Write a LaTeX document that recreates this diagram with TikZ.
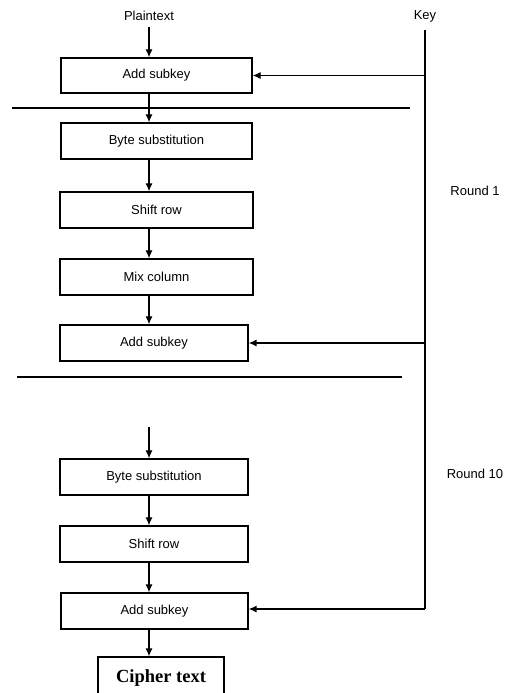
\documentclass[tikz,border=0pt]{standalone}
\usepackage{fontspec}
\setmainfont{Liberation Sans}
\newfontfamily\serifbold{Liberation Serif}
\usetikzlibrary{arrows.meta}
\begin{document}
\begin{tikzpicture}[x=1pt,y=-1pt,
  blk/.style={draw,line width=1.3pt,inner sep=0pt,font=\fontsize{13}{15}\selectfont},
  lbl/.style={inner sep=0pt,font=\fontsize{13}{15}\selectfont},
  conn/.style={line width=1.2pt,-{Latex[length=8pt,width=7pt]}},
  rule/.style={line width=1.2pt}]
\useasboundingbox (0,0) rectangle (510,693);
\clip (0,0) rectangle (510,693);
% boxes
\node[blk,minimum width=191pt,minimum height=35pt] (add1) at (156.5,75.5) {Add subkey};
\node[blk,minimum width=191pt,minimum height=36pt] (byte1) at (156.5,141) {Byte substitution};
\node[blk,minimum width=193pt,minimum height=36pt] (shift1) at (156.5,210) {Shift row};
\node[blk,minimum width=193pt,minimum height=36pt] (mix1) at (156.5,277) {Mix column};
\node[blk,minimum width=188pt,minimum height=36pt] (add2) at (154,343) {Add subkey};
\node[blk,minimum width=188pt,minimum height=36pt] (byte10) at (154,477) {Byte substitution};
\node[blk,minimum width=188pt,minimum height=36pt] (shift10) at (154,544) {Shift row};
\node[blk,minimum width=187pt,minimum height=36pt] (add10) at (154.5,611) {Add subkey};
\node[draw,line width=1.3pt,inner sep=0pt,minimum width=126pt,minimum height=42pt,
  font=\serifbold\bfseries\fontsize{18.5}{20}\selectfont] (cipher) at (161,678) {Cipher text};
% labels
\node[lbl] (plain) at (149,16) {Plaintext};
\node[lbl] (key) at (425,16) {Key};
\node[lbl] (r1) at (475,191) {Round 1};
\node[lbl] (r10) at (475,474) {Round 10};
% helper coordinates
\coordinate (ax) at (149,0);
\coordinate (kx) at (425,0);
\coordinate (ptop) at (149,27);
\coordinate (ktop) at (425,30);
\coordinate (kbot) at (425,609);
\coordinate (free) at (149,427);
\coordinate (h1a) at (12,108);
\coordinate (h1b) at (410,108);
\coordinate (h2a) at (17,377);
\coordinate (h2b) at (402,377);
% separator lines
\draw[rule] (h1a) -- (h1b);
\draw[rule] (h2a) -- (h2b);
% main flow
\draw[conn] (ptop) -- (add1.north -| ax);
\draw[conn] (add1.south -| ax) -- (byte1.north -| ax);
\draw[conn] (byte1.south -| ax) -- (shift1.north -| ax);
\draw[conn] (shift1.south -| ax) -- (mix1.north -| ax);
\draw[conn] (mix1.south -| ax) -- (add2.north -| ax);
\draw[conn] (free) -- (byte10.north -| ax);
\draw[conn] (byte10.south -| ax) -- (shift10.north -| ax);
\draw[conn] (shift10.south -| ax) -- (add10.north -| ax);
\draw[conn] (add10.south -| ax) -- (cipher.north -| ax);
% key line
\draw[line width=1.2pt] (ktop) -- (kbot);
\draw[conn] (kbot) -- (kbot -| add10.east);
\draw[conn] (add1.east -| kx) -- (add1.east);
\draw[conn] (add2.east -| kx) -- (add2.east);
\end{tikzpicture}
\end{document}
